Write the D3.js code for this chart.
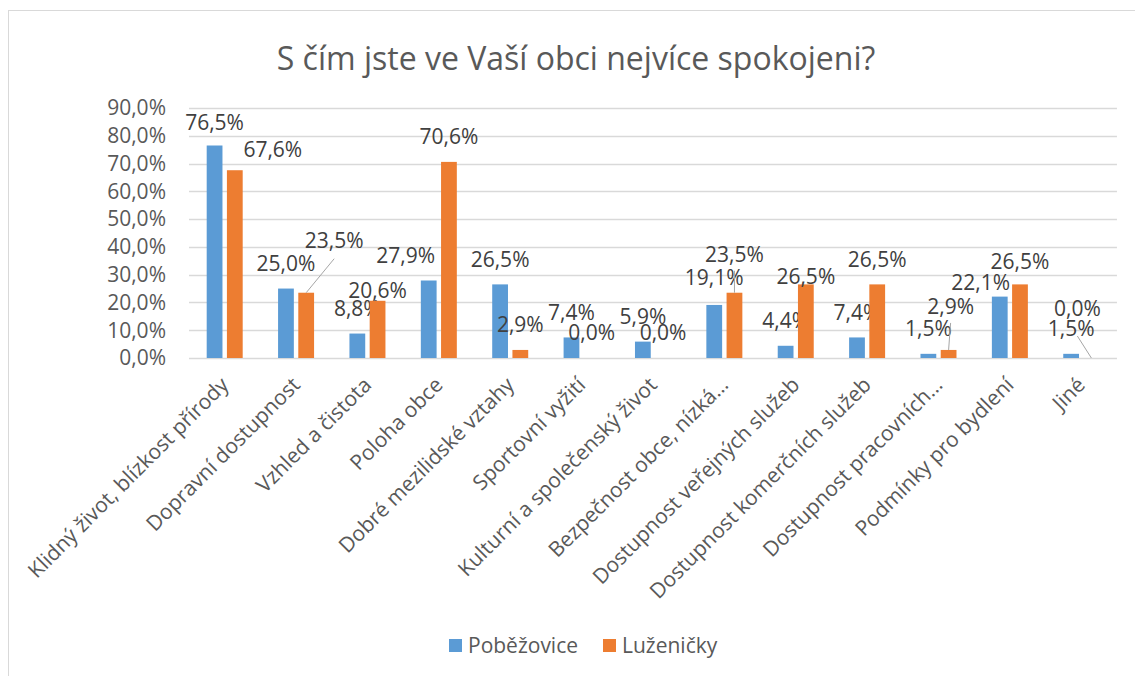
<!DOCTYPE html>
<html>
<head>
<meta charset="utf-8">
<script src="https://cdn.jsdelivr.net/npm/d3@7"></script>
<style>
  body { margin: 0; background: #fff; }
  svg text { font-family: 'Open Sans', sans-serif; }
</style>
</head>
<body>
<svg id="chart"></svg>
<script>
const categories = [
  'Klidný život, blízkost přírody',
  'Dopravní dostupnost',
  'Vzhled a čistota',
  'Poloha obce',
  'Dobré mezilidské vztahy',
  'Sportovní vyžití',
  'Kulturní a společenský život',
  'Bezpečnost obce, nízká…',
  'Dostupnost veřejných služeb',
  'Dostupnost komerčních služeb',
  'Dostupnost pracovních…',
  'Podmínky pro bydlení',
  'Jiné'
]
const seriesNames = ['Poběžovice', 'Luženičky']
const pobezovice = [76.5, 25.0, 8.8, 27.9, 26.5, 7.4, 5.9, 19.1, 4.4, 7.4, 1.5, 22.1, 1.5]
const luzenicky = [67.6, 23.5, 20.6, 70.6, 2.9, 0.0, 0.0, 23.5, 26.5, 26.5, 2.9, 26.5, 0.0]
const yTicks = [0, 10, 20, 30, 40, 50, 60, 70, 80, 90]

const colors = ['#5b9bd5', '#ed7d31']

// hand nudges for data labels, as Excel had them moved: [dx, dy, leader start dy or 0]
const nudges = [
  [[0, 2, 0], [0, 0, 0], [0, 0, 0], [-23, 0, 0], [0, 0, 0], [0, 0, 0], [0, 0, 0],
   [0, -2, 0], [0, 0, 0], [0, 0, 0], [0, 0, 0], [-19, 11, 0], [0, 0, 0]],
  [[38, 4, 0], [28, -27, 18], [0, 15, 0], [0, 0, 0], [0, 0, 0], [0, 0, 0], [0, 0, 0],
   [0, -13, 16], [0, 17, 0], [0, 0, 0], [2, -18, 16], [0, 2, 0], [-14, -24, 27]]
]

const width = 1135, height = 676
const margin = {top: 108, right: 18, bottom: 318, left: 189}
const fs = '21px'
const fmt = v => d3.format('.1f')(v).replace('.', ',') + '%'

const svg = d3.select('#chart')
  .attr('width', width)
  .attr('height', height)

svg.append('rect')
  .attr('x', 8.5).attr('y', 10.5)
  .attr('width', 1200).attr('height', 800)
  .attr('fill', '#fff')
  .attr('stroke', '#d9d9d9')

svg.append('text')
  .attr('x', 576).attr('y', 70)
  .attr('text-anchor', 'middle')
  .attr('fill', '#595959')
  .style('font-size', '32px')
  .text('S čím jste ve Vaší obci nejvíce spokojeni?')

const x = d3.scaleBand()
  .domain(categories)
  .range([margin.left, margin.left + 13 * 71.38])

const x1 = d3.scaleBand()
  .domain(seriesNames)
  .range([-18, 18])
  .paddingInner(0.22)

const y = d3.scaleLinear()
  .domain([0, 90])
  .range([358, margin.top])

// gridlines
svg.append('g')
  .selectAll('line')
  .data(yTicks)
  .join('line')
    .attr('x1', margin.left)
    .attr('x2', x.range()[1])
    .attr('y1', d => Math.round(y(d)) + 0.5)
    .attr('y2', d => Math.round(y(d)) + 0.5)
    .attr('stroke', '#d9d9d9')
    .attr('stroke-width', 1.3)

// y axis labels
svg.append('g')
  .selectAll('text')
  .data(yTicks)
  .join('text')
    .attr('x', 166)
    .attr('y', d => y(d))
    .attr('dy', '0.35em')
    .attr('text-anchor', 'end')
    .attr('fill', '#595959')
    .style('font-size', fs)
    .text(d => fmt(d))

const series = [pobezovice, luzenicky]

series.forEach((vals, s) => {
  const g = svg.append('g')
  const cx = i => x(categories[i]) + x.bandwidth() / 2 + x1(seriesNames[s]) + x1.bandwidth() / 2

  g.selectAll('rect')
    .data(vals)
    .join('rect')
      .attr('x', (d, i) => x(categories[i]) + x.bandwidth() / 2 + x1(seriesNames[s]))
      .attr('y', d => y(d))
      .attr('width', x1.bandwidth())
      .attr('height', d => y(0) - y(d))
      .attr('fill', colors[s])

  // leader lines
  g.selectAll('line')
    .data(vals.map((d, i) => ({d, i})).filter(o => nudges[s][o.i][2] > 0))
    .join('line')
      .attr('x1', o => cx(o.i) + nudges[s][o.i][0])
      .attr('y1', o => y(o.d) - 25 + nudges[s][o.i][1] + nudges[s][o.i][2])
      .attr('x2', o => cx(o.i))
      .attr('y2', o => y(o.d))
      .attr('stroke', '#a6a6a6')
      .attr('stroke-width', 1)

  g.selectAll('text')
    .data(vals)
    .join('text')
      .attr('x', (d, i) => cx(i) + nudges[s][i][0])
      .attr('y', (d, i) => y(d) - 25 + nudges[s][i][1])
      .attr('dy', '0.35em')
      .attr('text-anchor', 'middle')
      .attr('fill', '#404040')
      .style('font-size', fs)
      .text(d => fmt(d))
})

// category labels, rotated
svg.append('g')
  .selectAll('text')
  .data(categories)
  .join('text')
    .attr('transform', d => `translate(${x(d) + x.bandwidth() / 2},${381}) rotate(-45)`)
    .attr('text-anchor', 'end')
    .attr('dy', '0.35em')
    .attr('fill', '#595959')
    .style('font-size', fs)
    .text(d => d)

// legend
const legend = svg.append('g')
const legendX = [449, 603]
seriesNames.forEach((name, s) => {
  legend.append('rect')
    .attr('x', legendX[s]).attr('y', 639)
    .attr('width', 13).attr('height', 13)
    .attr('fill', colors[s])
  legend.append('text')
    .attr('x', legendX[s] + 19).attr('y', 646)
    .attr('dy', '0.35em')
    .attr('fill', '#595959')
    .style('font-size', fs)
    .text(name)
})
</script>
</body>
</html>
